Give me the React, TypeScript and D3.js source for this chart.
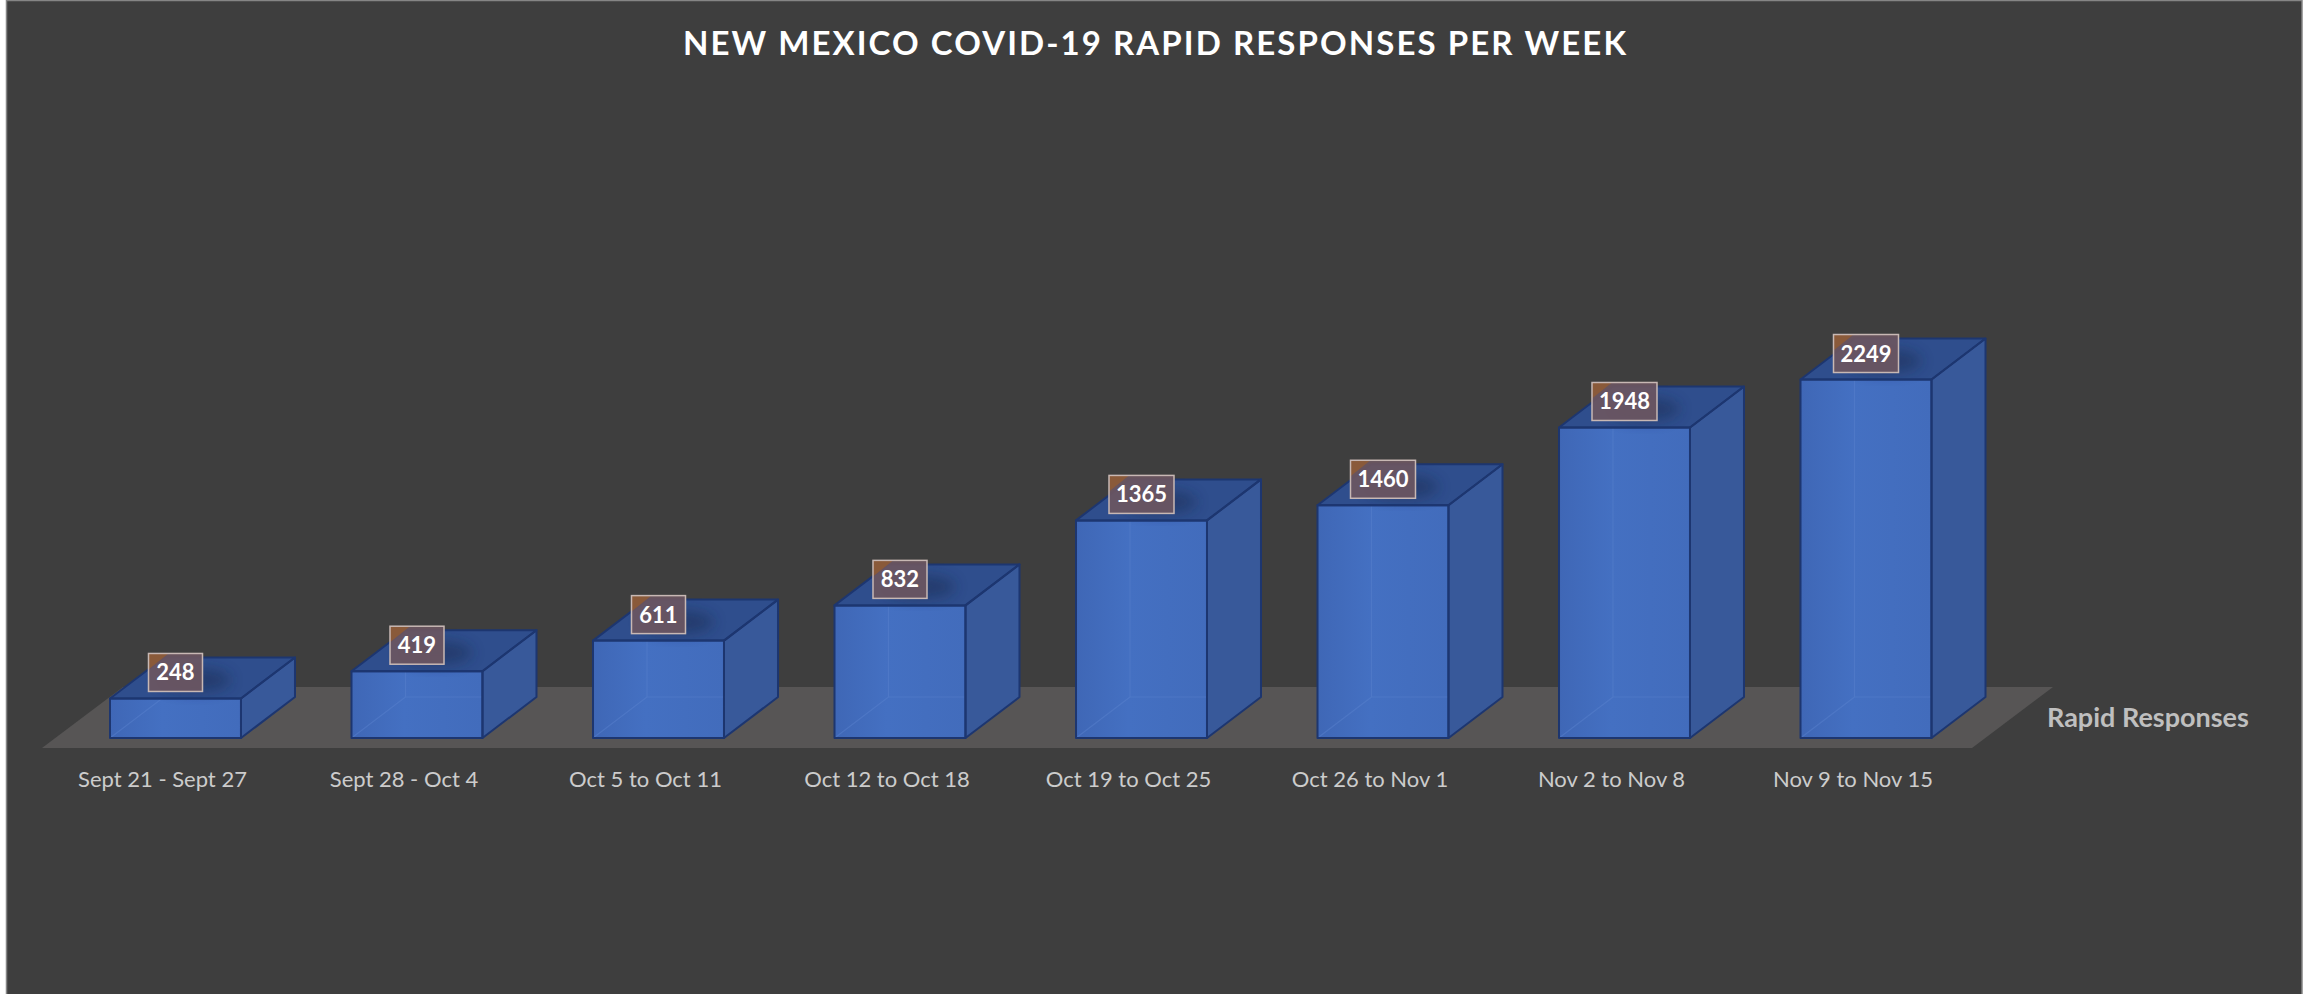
import React, { useEffect } from "react";
import * as d3 from "d3";

const categories = [
  "Sept 21 - Sept 27",
  "Sept 28 - Oct 4",
  "Oct 5 to Oct 11",
  "Oct 12 to Oct 18",
  "Oct 19 to Oct 25",
  "Oct 26 to Nov 1",
  "Nov 2 to Nov 8",
  "Nov 9 to Nov 15",
];
const values = [248, 419, 611, 832, 1365, 1460, 1948, 2249];
const seriesName = "Rapid Responses";
const title = "NEW MEXICO COVID-19 RAPID RESPONSES PER WEEK";

const W = 2305;
const H = 994;
const FONT = "Lato, 'Open Sans', sans-serif";

export default function App() {
  useEffect(() => {
    document.body.style.margin = "0";
  }, []);

  const x = d3
    .scaleBand<string>()
    .domain(categories)
    .range([110, 1931.5])
    .paddingInner(0.4576)
    .paddingOuter(0);
  const y = d3.scaleLinear().domain([0, 2500]).range([738, 738 - 2500 * 0.1594]);

  const dx = 54;
  const dy = -41;
  const bw = x.bandwidth();
  const y0 = y(0);

  // floor
  const fy1 = y0 + 10;
  const fy0 = y0 - 51;
  const fdx = 81;
  const floorPts = [
    [42, fy1],
    [1972, fy1],
    [1972 + fdx, fy0],
    [42 + fdx, fy0],
  ];

  const line = d3.line();

  return (
    <svg
      width={W}
      height={H}
      style={{ position: "fixed", left: 0, top: 0, display: "block" }}
    >
      <defs>
        <linearGradient id="frontG" x1="0" x2="1" y1="0" y2="0">
          <stop offset="0" stopColor="#3f67b6" />
          <stop offset="0.4" stopColor="#4470c2" />
          <stop offset="1" stopColor="#426cbc" />
        </linearGradient>
        <filter id="shadow" x="-50%" y="-50%" width="200%" height="200%">
          <feGaussianBlur stdDeviation="7" />
        </filter>
      </defs>
      <rect x={0} y={0} width={W} height={H} fill="#ffffff" />
      <rect x={6.5} y={0.5} width={2302 - 6.5} height={H + 5} fill="#3e3e3e" stroke="#858585" strokeWidth={1.5} />

      <text
        x={1154.5}
        y={55}
        textAnchor="middle"
        fontFamily={FONT}
        fontWeight={700}
        fontSize={33}
        fill="#ffffff"
        textLength={943}
        lengthAdjust="spacing"
      >
        {title}
      </text>

      <path d={line(floorPts as [number, number][])! + "Z"} fill="#575555" />

      {categories.map((c, i) => {
        const v = values[i];
        const xl = x(c)!;
        const xr = xl + bw;
        const yt = y(v);
        const front = [
          [xl, yt],
          [xr, yt],
          [xr, y0],
          [xl, y0],
        ];
        const top = [
          [xl, yt],
          [xl + dx, yt + dy],
          [xr + dx, yt + dy],
          [xr, yt],
        ];
        const side = [
          [xr, yt],
          [xr + dx, yt + dy],
          [xr + dx, y0 + dy],
          [xr, y0],
        ];
        const p = (pts: number[][]) => line(pts as [number, number][])! + "Z";
        return (
          <g key={c}>
            <path d={p(front)} fill="url(#frontG)" />
            <path
              d={`M${xl + dx},${yt + dy}L${xl + dx},${y0 + dy}L${xr + dx},${y0 + dy}M${xl},${y0}L${xl + dx},${y0 + dy}`}
              stroke="#5a82cf"
              strokeOpacity={0.45}
              strokeWidth={1.2}
              fill="none"
            />
            <path d={p(side)} fill="#38599a" />
            <path d={p(top)} fill="#2f4e8d" />
            <ellipse
              cx={xl + bw / 2 + dx * 0.35}
              cy={yt + dy * 0.45}
              rx={bw * 0.28}
              ry={12}
              fill="#15254a"
              opacity={0.45}
              filter="url(#shadow)"
            />
            <path d={p(front)} fill="none" stroke="#1d3670" strokeWidth={2} strokeLinejoin="round" />
            <path d={p(top)} fill="none" stroke="#1d3670" strokeWidth={2} strokeLinejoin="round" />
            <path d={p(side)} fill="none" stroke="#1d3670" strokeWidth={2} strokeLinejoin="round" />
          </g>
        );
      })}

      {categories.map((c, i) => {
        const v = values[i];
        const cx = x(c)! + bw / 2;
        const cy = y(v) - 26;
        const label = String(v);
        const w = label.length >= 4 ? 65 : 54;
        const h = 38;
        const bx = cx - w / 2;
        const by = cy - h / 2;
        return (
          <g key={"l" + c}>
            <rect x={bx} y={by} width={w} height={h} fill="#6b5661" fillOpacity={0.92} />
            <path d={`M${bx},${by}L${bx + 20},${by}L${bx},${by + 16}Z`} fill="#8e5b36" opacity={0.9} />
            <rect x={bx} y={by} width={w} height={h} fill="none" stroke="#c8b8b4" strokeWidth={1.5} />
            <text
              x={cx}
              y={cy + 8}
              textAnchor="middle"
              fontFamily={FONT}
              fontWeight={700}
              fontSize={22}
              fill="#ffffff"
            >
              {label}
            </text>
          </g>
        );
      })}

      {categories.map((c) => (
        <text
          key={"c" + c}
          x={x(c)! + bw / 2 - 13}
          y={787}
          textAnchor="middle"
          fontFamily={FONT}
          fontSize={22}
          fill="#cccccc"
        >
          {c}
        </text>
      ))}

      <text x={2047} y={727} fontFamily={FONT} fontWeight={700} fontSize={27} fill="#bfbfbf">
        {seriesName}
      </text>
    </svg>
  );
}
